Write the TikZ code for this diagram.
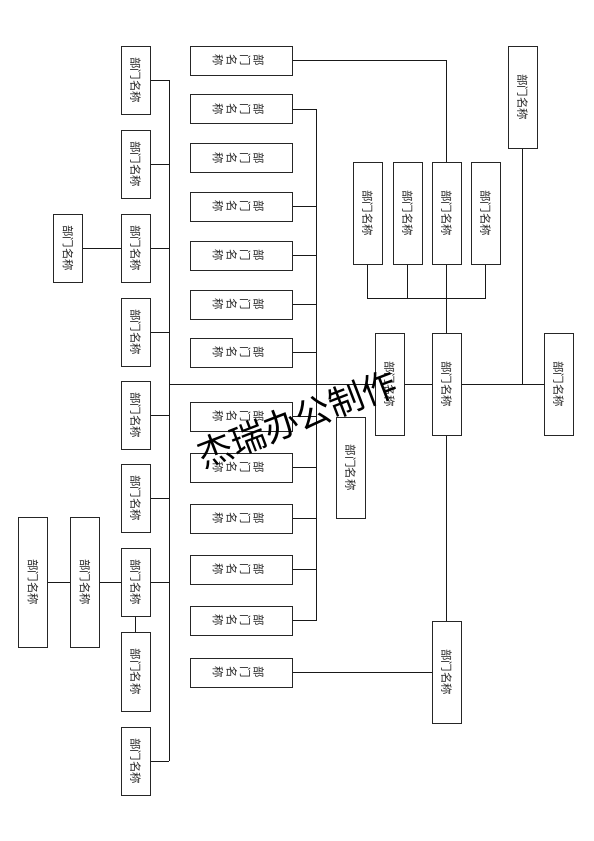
\documentclass[tikz,border=0pt]{standalone}
\usepackage{fontspec}
\newfontfamily\cjk{Noto Sans CJK SC}
\usepackage{graphicx}
\usetikzlibrary{positioning}
\newcommand*{\dname}{\rotatebox{-90}{部门名称}}
\newcommand*{\sname}{\rotatebox{-90}{\begin{tabular}{@{}c@{}}部\\门\\名\\称\end{tabular}}\hspace*{8pt}}
\tikzset{
    unit/.style = {draw=black!85,line width=1pt,inner sep=0,text=black!85,font=\cjk\fontsize{11.5}{13}\selectfont},
    vunit/.style = {unit,minimum width=29pt,minimum height=#1},
    vunit/.default = 68pt,
    hunit/.style = {unit,minimum width=102pt,minimum height=29pt},
    link/.style = {draw=black!90,line width=1pt},
    stamp/.style = {rotate=21,inner sep=0,font=\cjk\fontsize{35}{35}\selectfont}
}
\begin{document}
\begin{tikzpicture}[x=1pt,y=-1pt]
        \useasboundingbox (0,0) rectangle (594,841);
        \newcommand\lx{135.5}
        \newcommand\mx{241}
        % Left column
        \foreach \name/\ypos in {l1/80,l2/164,l3/248,l4/332,l5/415,l6/498,l7/582,l9/761}
            \node[vunit] (\name) at (\lx,\ypos) {\dname};
        \node[vunit=79pt] (l8) at (\lx,671.5) {\dname};
        \node[vunit] (f1) at (68,248) {\dname};
        \node[vunit=130pt] (f3) at (85,582) {\dname};
        \node[vunit=130pt,left=22pt of f3] (f2) {\dname};
        % Middle column
        \foreach \name/\ypos in {m1/60.5,m2/109,m3/158,m4/206.5,m5/255.5,m6/304.5,m7/352.5,
                m8/416.5,m9/467.5,m10/518.5,m11/569.5,m12/620.5,m13/672.5}
            \node[hunit] (\name) at (\mx,\ypos) {\sname};
        \node[vunit=101pt] (u) at (350.5,467.5) {\dname};
        % Right part
        \node[vunit=102pt] (c0) at (389.5,384) {\dname};
        \node[vunit=102pt] (c) at (446.5,384) {\dname};
        \node[vunit=102pt] (r) at (558.5,384) {\dname};
        \node[vunit=102pt] (top) at (522.5,97) {\dname};
        \node[vunit=102pt] (b) at (446.5,672) {\dname};
        \node[vunit=102pt] (q3) at (446.5,213) {\dname};
        \node[vunit=102pt,left=9pt of q3] (q2) {\dname};
        \node[vunit=102pt,left=10pt of q2] (q1) {\dname};
        \node[vunit=102pt,right=9pt of q3] (q4) {\dname};
        % Trunks
        \coordinate (ltop) at (169,80);
        \coordinate (lbot) at (169,761);
        \coordinate (mtop) at (316,109);
        \coordinate (mbot) at (316,620.5);
        \coordinate (bus) at (446.5,298);
        \draw[link] (ltop) -- (lbot);
        \draw[link] (mtop) -- (mbot);
        \foreach \src in {l1,l2,l3,l4,l5,l6,l7,l9}
            \draw[link] (\src.east) -- (\src -| ltop);
        \foreach \src in {m2,m4,m5,m6,m7,m8,m9,m10,m11,m12}
            \draw[link] (\src.east) -- (\src -| mtop);
        % Side links
        \foreach \src/\dest in {f1/l3,f2/f3,f3/l7,c0/c,c/r}
            \draw[link] (\src.east) -- (\dest.west);
        \draw[link] (l7.south) -- (l8.north);
        \draw[link] (ltop |- c0) -- (c0.west);
        \draw[link] (top.south) -- (top |- r.west);
        \draw[link] (m1.east) -- (m1 -| q3) -- (q3.north);
        \draw[link] (q1.south) -- (q1 |- bus) -- (q4 |- bus) -- (q4.south);
        \draw[link] (q2.south) -- (q2 |- bus);
        \draw[link] (q3.south) -- (c.north);
        \draw[link] (c.south) -- (b.north);
        \draw[link] (m13.east) -- (m13.east -| b.west);
        % Stamp
        \node[stamp] (wm) at (297,419) {杰瑞办公制作};
    \end{tikzpicture}
\end{document}
